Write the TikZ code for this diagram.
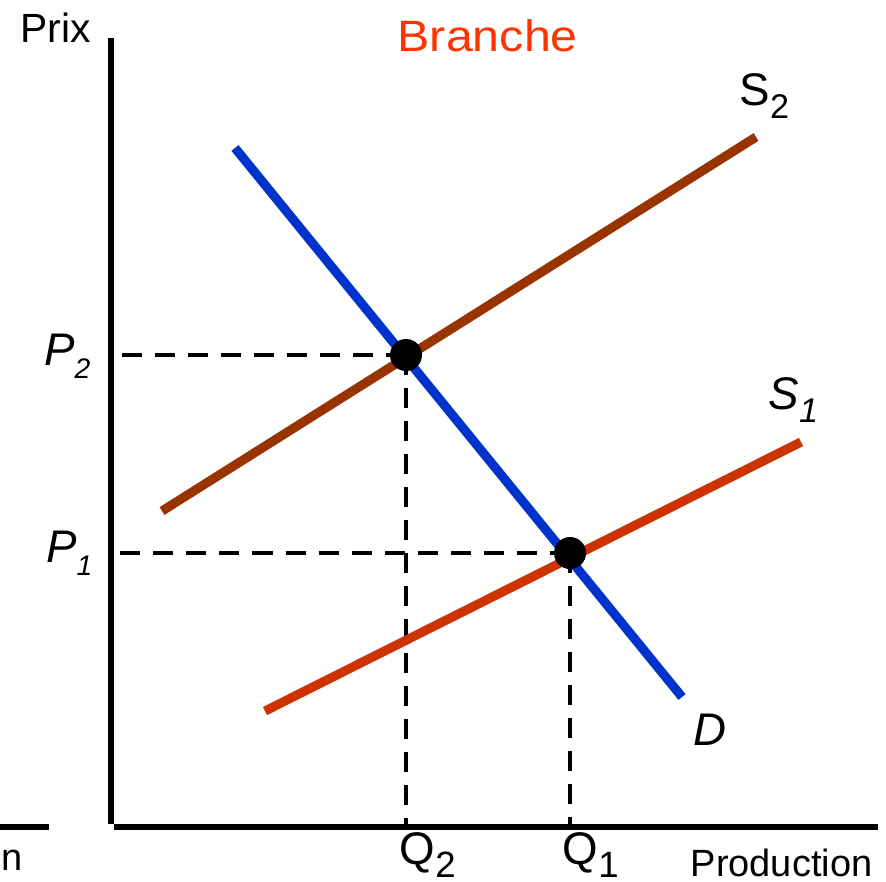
\documentclass[tikz,border=0pt]{standalone}
\usepackage{fontspec}
\setmainfont{Liberation Sans}
\usepackage{graphicx}

\definecolor{bleudemande}{RGB}{0,51,204}
\definecolor{brunoffre}{RGB}{153,51,0}
\definecolor{rougeoffre}{RGB}{204,51,0}
\definecolor{rougetitre}{RGB}{255,51,0}

% indice abaissé
\newcommand{\basindice}[2][0.75]{\raisebox{-0.3em}{\scalebox{#1}{#2}}}

\begin{document}
\begin{tikzpicture}[
  x=0.01cm, y=-0.01cm,
  line cap=butt,
  every node/.style={inner sep=0pt, font=\fontsize{13}{15}\selectfont},
  axe/.style={line width=1.5pt},
  courbe/.style={line width=2.6pt},
  pointille/.style={line width=1.15pt, dash pattern=on 5.7pt off 3.7pt},
  equilibre/.style={circle, fill=black, minimum size=0.32cm}
]
  \useasboundingbox (0,0) rectangle (886,881);

  % Axes
  \coordinate (Yhaut) at (111,38);
  \coordinate (Ybas)  at (111,824);
  \coordinate (Xgauche) at (114,827);
  \coordinate (Xdroite) at (878,827);
  \draw[axe] (Yhaut) -- (Ybas);
  \draw[axe] (Xgauche) -- (Xdroite);

  % reste de l'axe du graphique voisin
  \coordinate (Vgauche) at (0,827);
  \coordinate (Vdroite) at (49,827);
  \draw[axe] (Vgauche) -- (Vdroite);

  % Points d'équilibre
  \coordinate (E2) at (406,355);
  \coordinate (E1) at (570,553);

  % Pointillés vers les axes
  \draw[pointille] (E2) -- (E2 -| Yhaut);
  \draw[pointille] (E1) -- (E1 -| Yhaut);
  \draw[pointille] (E2) -- (E2 |- Xgauche);
  \draw[pointille] (E1) -- (E1 |- Xgauche);

  % Demande
  \coordinate (Dhaut) at (235,148);
  \coordinate (Dbas)  at (682,697);
  \draw[courbe, bleudemande] (Dhaut) -- (Dbas);

  % Offre avant et après
  \coordinate (S2bas)  at (162,511);
  \coordinate (S2haut) at (756,137);
  \draw[courbe, brunoffre] (S2bas) -- (S2haut);

  \coordinate (S1bas)  at (265,711);
  \coordinate (S1haut) at (801,442);
  \draw[courbe, rougeoffre] (S1bas) -- (S1haut);

  \node[equilibre] (pointE2) at (E2) {};
  \node[equilibre] (pointE1) at (E1) {};

  % Titres
  \node[anchor=base west, font=\fontsize{11.6}{14}\selectfont] (prix) at (20,42) {Prix};
  \node[anchor=base west, text=rougetitre, font=\fontsize{12.5}{15}\selectfont]
    (branche) at (397,51) {\scalebox{1.1}[1]{Branche}};
  \node[anchor=base east, font=\fontsize{10.8}{13}\selectfont] (production) at (873,876) {Production};
  \node[anchor=base west, font=\fontsize{10.8}{13}\selectfont] (resten) at (1,870) {n};

  % Étiquettes
  \node[anchor=base east] (labP2) at (91,365) {\textit{P}\basindice[0.62]{\textit{2}}};
  \node[anchor=base east] (labP1) at (93,562) {\textit{P}\basindice[0.62]{\textit{1}}};
  \node[anchor=base west] (labQ2) at (399,864) {Q\basindice[0.8]{2}};
  \node[anchor=base west] (labQ1) at (562,864) {Q\basindice[0.8]{1}};
  \node[anchor=base west] (labS2) at (739,105) {S\basindice{2}};
  \node[anchor=base west] (labS1) at (768,409) {\textit{S}\basindice{\textit{1}}};
  \node[anchor=base west] (labD)  at (693,745) {\textit{D}};
\end{tikzpicture}
\end{document}
